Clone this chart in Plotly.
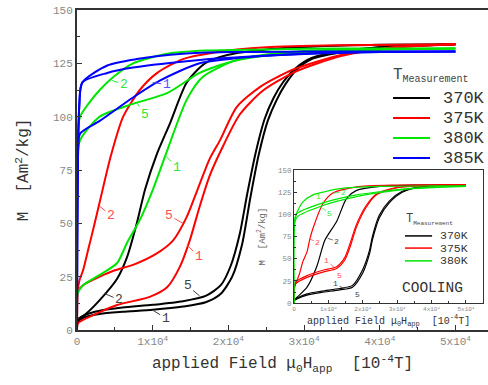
import plotly.graph_objects as go

# ---------------- main plot data (heating) ----------------
# 370 K (black)
b1_H = [0, 50, 300, 1000, 3000, 6000, 10000, 14000, 17000, 19000, 20500, 21800, 22900, 24000, 25200, 26400, 27500, 29000, 31000, 34700, 40000, 50000]
b1_M = [0, 3, 4.5, 6, 7.5, 8.5, 9.5, 11, 13, 17, 25, 40, 62, 82, 98, 108, 115, 122, 127, 130, 132.5, 134]
b5_H = [0, 50, 300, 1000, 3000, 6000, 10000, 14000, 17000, 19000, 20300, 21500, 22500, 23600, 24800, 26000, 27200, 28800, 31000, 34700, 40000, 50000]
b5_M = [0, 4, 5.5, 7, 9, 10.5, 11.8, 13.5, 16, 21, 30, 45, 64, 83, 99, 109, 116, 122.5, 127.5, 130.5, 132.5, 134]
b2_H = [0, 100, 1000, 3000, 5300, 6600, 7900, 9000, 10500, 12300, 14500, 16900, 20000, 25000, 32000, 40000, 50000]
b2_M = [0, 4.7, 7, 14, 24, 34, 50, 66, 82, 97, 116, 125, 129, 131.5, 133, 133.7, 134]
# 375 K (red)
r2_H = [0, 100, 300, 800, 1500, 2200, 3000, 4500, 6100, 8300, 10600, 14000, 18000, 25000, 35000, 50000]
r2_M = [0, 18, 23, 28, 38, 48, 60, 82, 100, 112.5, 120.5, 127, 130, 132.5, 133.5, 134]
r5_H = [0, 100, 800, 3000, 5000, 7400, 10600, 12700, 14500, 15900, 17500, 18900, 21100, 24200, 28500, 35000, 42000, 50000]
r5_M = [0, 18, 21, 25, 28, 30.5, 36, 42, 53, 65.6, 80, 89, 104.5, 114, 122, 129, 132.5, 134]
r1_H = [0, 100, 800, 5300, 9600, 11900, 13600, 14900, 16200, 17500, 19000, 21500, 24500, 28800, 35000, 42000, 50000]
r1_M = [0, 3, 4.7, 11.7, 15.5, 20, 29.7, 42, 57.8, 72, 84, 101, 112, 121, 128.5, 132.5, 134]
# 380 K (green)
g1_H = [0, 80, 800, 3000, 5300, 6600, 8300, 10000, 11900, 14500, 16600, 21100, 27000, 35000, 50000]
g1_M = [0, 17, 21, 25.8, 31.4, 40.8, 51.6, 65.6, 84, 108, 118.6, 126.6, 130, 131.5, 132]
g2_H = [0, 50, 400, 1500, 3000, 4800, 7400, 11900, 17000, 25000, 35000, 50000]
g2_M = [0, 90, 100, 106, 112.5, 118.6, 125, 129.5, 131, 131.5, 132, 132]
g5_H = [0, 50, 400, 3000, 7400, 11900, 16200, 20600, 26000, 33000, 42000, 50000]
g5_M = [0, 80, 89, 100, 106, 111, 120.5, 126, 129, 130.5, 131.5, 132]
# 385 K (blue)
u2_H = [0, 300, 700, 4000, 7900, 14000, 20000, 30000, 50000]
u2_M = [0, 105, 116, 124, 127, 129.5, 130.3, 130.5, 130.5]
u5_H = [0, 300, 700, 4000, 7400, 16200, 22900, 35000, 50000]
u5_M = [0, 105, 116, 120.5, 123, 126.6, 128.2, 130, 130.5]
u1_H = [0, 100, 400, 3000, 7400, 11000, 16200, 22900, 30000, 40000, 50000]
u1_M = [0, 80, 92, 98, 109, 117, 125, 128, 129.5, 130.3, 130.5]

# ---------------- inset data (cooling) ----------------
ig1_H = [0, 300, 1200, 2600, 5500, 8400, 13300, 25000, 40000, 50000]
ig1_M = [0, 96, 105, 114, 122, 125, 129, 131.5, 132, 132]
ig2_H = [0, 150, 900, 8400, 18200, 24800, 33000, 42000, 50000]
ig2_M = [0, 92, 101, 113, 122, 125.5, 129, 131, 131.5]
ig5_M = [0, 89, 97, 110, 120, 124.5, 128.5, 130.5, 131.5]
ir2_H = [0, 100, 500, 1500, 2600, 3800, 4600, 5500, 8400, 11300, 18200, 30000, 50000]
ir2_M = [0, 16, 22, 32, 47, 58, 72, 84, 112, 124, 131, 133, 133.5]
ir1_H = [0, 100, 500, 3800, 8400, 12400, 14700, 16200, 18200, 21000, 24000, 30000, 40000, 50000]
ir1_M = [0, 18, 22, 29, 35, 39, 48, 62, 86, 108, 122, 130, 132.5, 133.5]
ir5_M = [0, 20, 24, 31, 37, 41, 51, 66, 89, 110, 123, 130.5, 132.5, 133.5]
ib2_H = [0, 100, 1000, 3800, 6600, 9000, 12400, 15300, 18200, 25000, 35000, 50000]
ib2_M = [0, 3, 7, 18, 41, 71, 92, 118, 127, 131.5, 133, 133.5]
ib1_H = [0, 100, 1000, 3800, 8000, 13300, 17000, 20000, 22000, 22800, 24800, 27700, 31500, 37000, 50000]
ib1_M = [0, 3, 5, 9, 12, 15, 18, 34, 56, 71, 96, 113, 125, 131, 133.5]
ib5_M = [0, 4, 6, 10.5, 13.5, 16.5, 20, 38, 60, 75, 99, 115, 126, 131, 133.5]

temps = ["370K", "375K", "380K", "385K"]
inset_temps = ["370K", "375K", "380K"]
colors = {"370K": "#000000", "375K": "#ff0000", "380K": "#00e600", "385K": "#0000ff"}
label_colors = {"370K": "#404040", "375K": "#ff4d4d", "380K": "#33e633", "385K": "#5555ff"}

x_tickvals = [0, 10000, 20000, 30000, 40000, 50000]
x_ticktext = ["0", "1x10<sup>4</sup>", "2x10<sup>4</sup>", "3x10<sup>4</sup>", "4x10<sup>4</sup>", "5x10<sup>4</sup>"]
y_tickvals = [0, 25, 50, 75, 100, 125, 150]

FONT = "Liberation Mono"
XTITLE = "applied Field \u03bc<sub>0</sub>H<sub>app</sub>  [10<sup>-4</sup>T]"
YTITLE = "M  [Am<sup>2</sup>/kg]"

main_curves = [
    ("370K", b1_H, b1_M), ("370K", b5_H, b5_M), ("370K", b2_H, b2_M),
    ("375K", r2_H, r2_M), ("375K", r5_H, r5_M), ("375K", r1_H, r1_M),
    ("380K", g1_H, g1_M), ("380K", g2_H, g2_M), ("380K", g5_H, g5_M),
    ("385K", u2_H, u2_M), ("385K", u5_H, u5_M), ("385K", u1_H, u1_M),
]
inset_curves = [
    ("370K", ib2_H, ib2_M), ("370K", ib1_H, ib1_M), ("370K", ib1_H, ib5_M),
    ("375K", ir2_H, ir2_M), ("375K", ir1_H, ir1_M), ("375K", ir1_H, ir5_M),
    ("380K", ig1_H, ig1_M), ("380K", ig2_H, ig2_M), ("380K", ig2_H, ig5_M),
]

fig = go.Figure()
for t, H, M in main_curves:
    fig.add_trace(go.Scatter(x=H, y=M, mode="lines", name=t, legendgroup=t, showlegend=False,
                             line=dict(color=colors[t], width=2, shape="spline", smoothing=0.7),
                             xaxis="x", yaxis="y"))
for t, H, M in inset_curves:
    fig.add_trace(go.Scatter(x=H, y=M, mode="lines", name=t, showlegend=False,
                             line=dict(color=colors[t], width=1.2, shape="spline", smoothing=0.7),
                             xaxis="x2", yaxis="y2"))

# curve labels main: (text, temp, H, M, ax, ay)
main_labels = [
    ("2", "380K", 4600, 117, 12, 4), ("1", "385K", 10000, 116, 14, 2),
    ("5", "380K", 7900, 106.5, 8, 12), ("1", "380K", 11600, 82, 12, 12),
    ("2", "375K", 3000, 58, 11, 9), ("5", "375K", 14000, 50, -14, -8),
    ("1", "375K", 14500, 40, 12, 12), ("2", "370K", 3700, 17, 14, 6),
    ("5", "370K", 16200, 16, -12, -10), ("1", "370K", 10000, 9.3, 13, 8),
]
inset_labels = [
    ("1", "380K", 9000, 112, -6, -7), ("2", "380K", 11500, 124, 10, -1),
    ("5", "380K", 7500, 109, 10, 7), ("2", "375K", 4600, 72, 8, 3),
    ("2", "370K", 9800, 73, 9, 3), ("1", "375K", 11800, 40, -8, -7),
    ("5", "375K", 11000, 38, 8, 6), ("1", "370K", 14700, 16, -9, -5),
    ("5", "370K", 16200, 17, 8, 6),
]
ann = []
for txt, t, h, m, ax, ay in main_labels:
    ann.append(dict(x=h, y=m, xref="x", yref="y", text=txt, showarrow=True, arrowhead=0,
                    arrowwidth=1, arrowcolor=label_colors[t], ax=ax, ay=ay, standoff=0,
                    font=dict(family=FONT, size=13, color=label_colors[t])))
for txt, t, h, m, ax, ay in inset_labels:
    ann.append(dict(x=h, y=m, xref="x2", yref="y2", text=txt, showarrow=True, arrowhead=0,
                    arrowwidth=0.8, arrowcolor=label_colors[t], ax=ax, ay=ay, standoff=0,
                    font=dict(family=FONT, size=8, color=label_colors[t])))

shapes = []
# main legend (drawn)
main_leg_y = [0.725, 0.6625, 0.6, 0.5375]
for t, yy in zip(temps, main_leg_y):
    shapes.append(dict(type="line", xref="paper", yref="paper", x0=0.769, x1=0.859, y0=yy, y1=yy,
                       line=dict(color=colors[t], width=2)))
    ann.append(dict(x=0.885, y=yy, xref="paper", yref="paper", text=t, showarrow=False,
                    xanchor="left", yanchor="middle", font=dict(family=FONT, size=17, color="#333")))
ann.append(dict(x=0.765, y=0.795, xref="paper", yref="paper",
                text="T<sub><span style='font-size:10px'>Measurement</span></sub>", showarrow=False,
                xanchor="left", yanchor="middle", font=dict(family=FONT, size=16, color="#444")))

# inset legend (drawn)
inset_leg_y = [0.294, 0.256, 0.216]
for t, yy in zip(inset_temps, inset_leg_y):
    shapes.append(dict(type="line", xref="paper", yref="paper", x0=0.798, x1=0.864, y0=yy, y1=yy,
                       line=dict(color=colors[t], width=1.5)))
    ann.append(dict(x=0.878, y=yy, xref="paper", yref="paper", text=t, showarrow=False,
                    xanchor="left", yanchor="middle", font=dict(family=FONT, size=11.5, color="#333")))
ann.append(dict(x=0.795, y=0.345, xref="paper", yref="paper",
                text="T<sub><span style='font-size:6px'>Measurement</span></sub>", showarrow=False,
                xanchor="left", yanchor="middle", font=dict(family=FONT, size=12, color="#444")))
ann.append(dict(x=0.866, y=0.13, xref="paper", yref="paper", text="COOLING", showarrow=False,
                xanchor="center", yanchor="middle", font=dict(family=FONT, size=14.5, color="#333")))

axis_common = dict(showline=True, linecolor="#333", ticks="inside", tickcolor="#333",
                   showgrid=False, zeroline=False, automargin=False)

fig.update_layout(
    width=488, height=385, margin=dict(l=77, r=0, t=10, b=55),
    paper_bgcolor="white", plot_bgcolor="white",
    font=dict(family=FONT, color="#333"),
    showlegend=False,
    xaxis=dict(range=[0, 54300], domain=[0, 1], tickvals=x_tickvals, ticktext=x_ticktext,
               linewidth=2, ticklen=5, mirror=True,
               minor=dict(dtick=5000, ticks="inside", ticklen=3, tickcolor="#333"),
               tickfont=dict(family=FONT, size=11, color="#888"),
               title=dict(text=XTITLE, font=dict(family=FONT, size=16, color="#333"), standoff=10),
               **axis_common),
    yaxis=dict(range=[0, 150], domain=[0, 1], tickvals=y_tickvals, linewidth=2, ticklen=5,
               minor=dict(dtick=12.5, ticks="inside", ticklen=3, tickcolor="#333"),
               tickfont=dict(family=FONT, size=11, color="#888"),
               title=dict(text=YTITLE, font=dict(family=FONT, size=16, color="#333"), standoff=20),
               **axis_common),
    xaxis2=dict(range=[0, 55000], domain=[0.528, 0.988], anchor="y2", tickvals=x_tickvals,
                ticktext=x_ticktext, linewidth=1.2, ticklen=3, mirror=True,
                minor=dict(dtick=5000, ticks="inside", ticklen=2, tickcolor="#333"),
                tickfont=dict(family=FONT, size=6, color="#888"),
                title=dict(text=XTITLE, font=dict(family=FONT, size=10, color="#333"), standoff=0),
                **axis_common),
    yaxis2=dict(range=[0, 150], domain=[0.084, 0.5], anchor="x2", tickvals=y_tickvals,
                linewidth=1.2, ticklen=3, mirror=True,
                minor=dict(dtick=12.5, ticks="inside", ticklen=2, tickcolor="#333"),
                tickfont=dict(family=FONT, size=7.5, color="#888"),
                title=dict(text=YTITLE, font=dict(family=FONT, size=9, color="#666"), standoff=10),
                **axis_common),
    annotations=ann, shapes=shapes,
)

fig.write_html("out.html", config={"displayModeBar": False},
               post_script="document.body.style.margin='0px';document.body.style.overflow='hidden';")
